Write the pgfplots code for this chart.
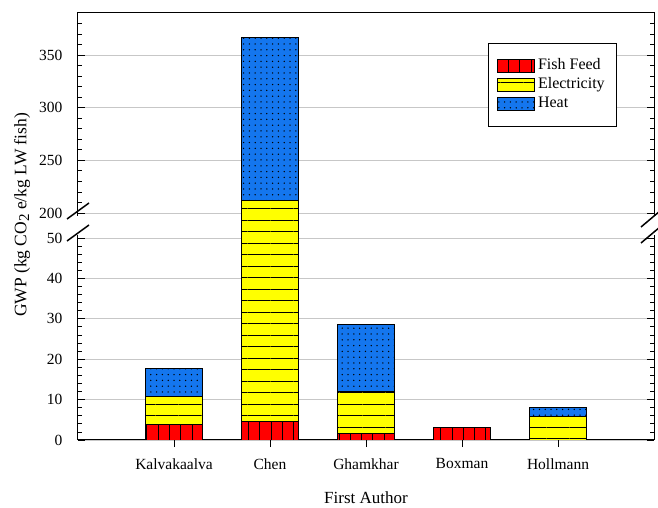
\documentclass[border=0pt]{standalone}
\usepackage{pgfplots}
\pgfplotsset{compat=1.18}
\usepackage{fontspec}
\setmainfont{Liberation Serif}
\usetikzlibrary{patterns.meta}
\definecolor{cRed}{RGB}{255,0,0}
\definecolor{cYel}{RGB}{255,255,0}
\definecolor{cBlue}{RGB}{20,118,238}
\tikzset{
  ffstyle/.style={fill=cRed, draw=black, line width=0.8pt,
    postaction={pattern={Lines[angle=90,distance=11.3pt,line width=1pt]}, pattern color=black}},
  elstyle/.style={fill=cYel, draw=black, line width=0.8pt,
    postaction={pattern={Lines[angle=0,distance=11.5pt,line width=1pt]}, pattern color=black}},
  htstyle/.style={fill=cBlue, draw=black, line width=0.8pt,
    postaction={pattern={Dots[distance=5.8pt,radius=0.75pt]}, pattern color=black}},
}
\begin{document}
\begin{tikzpicture}
\begin{axis}[
  scale only axis, width=576pt, height=427pt,
  at={(0pt,0pt)}, anchor=south west,
  xmin=-1, xmax=5, ymin=0, ymax=390,
  y coord trafo/.code={\pgfmathparse{(#1<=50)?(#1):((#1<=200)?(50+(#1-50)*0.041254):(56.188+(#1-200)*0.26055))}},
  ytick={0,10,20,30,40,50,200,250,300,350},
  yticklabels={0,10,20,30,40,50,200,250,300,350},
  minor ytick={2,4,6,8,12,14,16,18,22,24,26,28,32,34,36,38,42,44,46,48,210,220,230,240,260,270,280,290,310,320,330,340,360,370,380},
  ymajorgrids, major grid style={draw=black!22, line width=0.9pt},
  xtick={0,1,2,3,4},
  xticklabels={Kalvakaalva,Chen,Ghamkhar,Boxman,Hollmann},
  xtick pos=left, xtick align=outside,
  ytick pos=both, ytick align=inside,
  major tick length=7pt, minor tick length=4.5pt,
  tick style={black, line width=0.8pt},
  axis line style={line width=1pt},
  tick label style={font=\fontsize{15.5}{18}\selectfont},
  yticklabel style={xshift=-12pt},
  xticklabel style={yshift=-8pt},
  ylabel={GWP (kg CO\raisebox{-0.35ex}{\fontsize{15}{17}\selectfont 2} e/kg LW fish)},
  ylabel style={at={(axis description cs:-0.097,0.527)}, anchor=center, rotate=0, font=\fontsize{17.5}{20}\selectfont},
  xlabel={First Author},
  xlabel style={at={(axis description cs:0.5,-0.136)}, anchor=center, font=\fontsize{17}{20}\selectfont},
  ybar, bar width=0.6,
  legend image code/.code={\draw[#1] (0pt,-6.5pt) rectangle (37pt,6.5pt);},
  legend style={at={(axis description cs:0.936,0.930)}, anchor=north east,
    draw=black, line width=0.9pt, inner xsep=9pt, inner ysep=13pt,
    font=\fontsize{16}{19}\selectfont, legend cell align=left,
    nodes={text height=11.5pt, text depth=3.5pt, inner ysep=2pt, inner xsep=3pt}},
]
% stacked bars drawn as overlapping cumulative totals
\addplot[htstyle, bar shift=0pt, forget plot] coordinates {(0,17.8) (1,367) (2,28.6) (4,8.0)};
\addplot[elstyle, bar shift=0pt, forget plot] coordinates {(0,10.7) (1,212) (2,12.1) (4,5.8)};
\addplot[ffstyle, bar shift=0pt, forget plot] coordinates {(0,3.8) (1,4.5) (2,1.6) (3,3.0)};
\addlegendimage{ffstyle}
\addlegendentry{Fish Feed}
\addlegendimage{elstyle}
\addlegendentry{Electricity}
\addlegendimage{htstyle}
\addlegendentry{Heat}
\end{axis}
% axis break
\fill[white] (-2pt,205pt) rectangle (2pt,224pt);
\fill[white] (574pt,205pt) rectangle (578pt,224pt);
\draw[line width=1.5pt] (-11pt,221pt) -- (11pt,237pt);
\draw[line width=1.5pt] (-11pt,199pt) -- (11pt,215pt);
\draw[line width=1.5pt] (563pt,213pt) -- (582pt,229pt);
\draw[line width=1.5pt] (563pt,197pt) -- (582pt,213pt);
\pgfresetboundingbox
\path[use as bounding box] (-78pt,-68pt) rectangle (580pt,440pt);
\end{tikzpicture}
\end{document}
